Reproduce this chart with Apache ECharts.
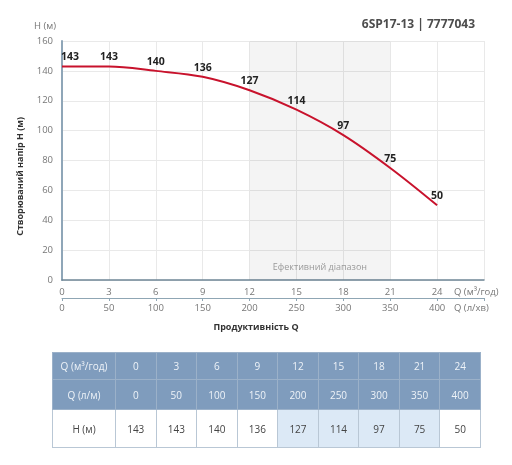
<!DOCTYPE html>
<html><head><meta charset="utf-8">
<script src="https://cdn.jsdelivr.net/npm/echarts@6/dist/echarts.min.js"></script>
<style>
html,body{margin:0;padding:0;background:#fff;}
#c{position:absolute;left:0;top:0;width:512px;height:465px;}
#t{position:absolute;left:52px;top:352px;width:429px;border-collapse:collapse;font-family:"Open Sans",Lato,sans-serif;font-size:10px;table-layout:fixed;}
#t td{text-align:center;border:1px solid #b9c7d5;padding:0;}
#t tr.h td{background:#7f9cbd;color:#eef3f8;height:26px;border-color:#9bb1c9;}
#t tr.d td{background:#fff;color:#444;height:37px;}
#t tr.d td.e{background:#dce9f6;}
</style></head><body>
<div id="c"></div>
<table id="t"></table>
<script>
const flowM3h = [0, 3, 6, 9, 12, 15, 18, 21, 24];
const flowLmin = [0, 50, 100, 150, 200, 250, 300, 350, 400];
const head = [143, 143, 140, 136, 127, 114, 97, 75, 50];
const effRange = [12, 21];
const title = '6SP17-13 | 7777043';

const font = '"Open Sans", Lato, sans-serif';
const chart = echarts.init(document.getElementById('c'));
const seriesData = flowM3h.map((q, i) => {
  const d = {value: [q, head[i]]};
  if (i === 0) d.label = {align: 'left', offset: [-1, 0]};
  return d;
});
chart.setOption({
  animation: false,
  backgroundColor: '#fff',
  textStyle: {fontFamily: font},
  title: {text: title, right: 32, top: 14, textStyle: {fontSize: 12, fontWeight: 'bold', color: '#4d4d4d', fontFamily: font}},
  grid: {left: 62, right: 28, top: 41, bottom: 185, containLabel: false},
  xAxis: [{
    type: 'value', min: 0, max: 27, interval: 3, position: 'bottom',
    axisLine: {show: true, onZero: false, lineStyle: {color: '#6f8797', width: 1.5}},
    axisTick: {show: false},
    splitLine: {show: true, lineStyle: {color: '#e9e9e9'}},
    axisLabel: {color: '#777', fontSize: 9.5, margin: 7, formatter: v => v > 24 ? '' : v},
    name: 'Q (м³/год)', nameLocation: 'end', nameGap: -30,
    nameTextStyle: {color: '#777', fontSize: 9.5, verticalAlign: 'top', padding: [7, 0, 0, 0]}
  }, {
    type: 'value', min: 0, max: 450, interval: 50, position: 'bottom', offset: 18,
    axisLine: {show: true, onZero: false, lineStyle: {color: '#8fa6b4', width: 1}},
    axisTick: {show: true, length: 3, lineStyle: {color: '#8fa6b4'}},
    splitLine: {show: false},
    axisLabel: {color: '#777', fontSize: 9.5, margin: 5, formatter: v => v > 400 ? '' : v},
    name: 'Q (л/хв)', nameLocation: 'end', nameGap: -30,
    nameTextStyle: {color: '#777', fontSize: 9.5, verticalAlign: 'top', padding: [5, 0, 0, 0]}
  }],
  yAxis: {
    type: 'value', min: 0, max: 160, interval: 20,
    axisLine: {show: true, lineStyle: {color: '#8fa6b8', width: 2}},
    axisTick: {show: false},
    splitLine: {show: true, lineStyle: {color: '#e9e9e9'}},
    axisLabel: {color: '#777', fontSize: 9.5, margin: 9},
    name: 'H (м)', nameLocation: 'end', nameGap: 10,
    nameTextStyle: {color: '#777', fontSize: 9.5, align: 'right', padding: [0, 6, 0, 0]}
  },
  graphic: [
    {type: 'text', left: 16, top: 117, rotation: Math.PI / 2,
     style: {text: 'Створюваний напір H (м)', font: 'bold 9px ' + font, fill: '#333'}},
    {type: 'text', left: 'center', top: 323, x: 16,
     style: {text: 'Продуктивність Q', font: 'bold 9px ' + font, fill: '#333', textAlign: 'center'}}
  ],
  series: [{
    type: 'line', xAxisIndex: 0, smooth: 0.35, showSymbol: true, symbol: 'circle', symbolSize: 1,
    data: seriesData,
    lineStyle: {color: '#c8122c', width: 2},
    itemStyle: {color: 'rgba(0,0,0,0)'},
    label: {show: true, position: 'top', distance: 3, color: '#222', fontWeight: 'bold', fontSize: 10.5, fontFamily: font},
    markArea: {
      silent: true,
      itemStyle: {color: 'rgba(0,0,0,0.045)'},
      label: {show: true, position: 'insideBottom', distance: 8, color: '#999', fontSize: 9, fontFamily: font},
      data: [[{xAxis: effRange[0], name: 'Ефективний діапазон'}, {xAxis: effRange[1]}]]
    },
    z: 3
  }]
});

// data table
const t = document.getElementById('t');
const cg = '<colgroup><col style="width:63px">' + flowM3h.map(() => '<col>').join('') + '</colgroup>';
const r1 = '<tr class="h"><td>Q (м³/год)</td>' + flowM3h.map(v => '<td>' + v + '</td>').join('') + '</tr>';
const r2 = '<tr class="h"><td style="height:29px">Q (л/м)</td>' + flowLmin.map(v => '<td style="height:29px">' + v + '</td>').join('') + '</tr>';
const r3 = '<tr class="d"><td>H (м)</td>' + head.map((v, i) => {
  const e = flowM3h[i] >= effRange[0] && flowM3h[i] <= effRange[1];
  return '<td' + (e ? ' class="e"' : '') + '>' + v + '</td>';
}).join('') + '</tr>';
t.innerHTML = cg + r1 + r2 + r3;
</script>
</body></html>
